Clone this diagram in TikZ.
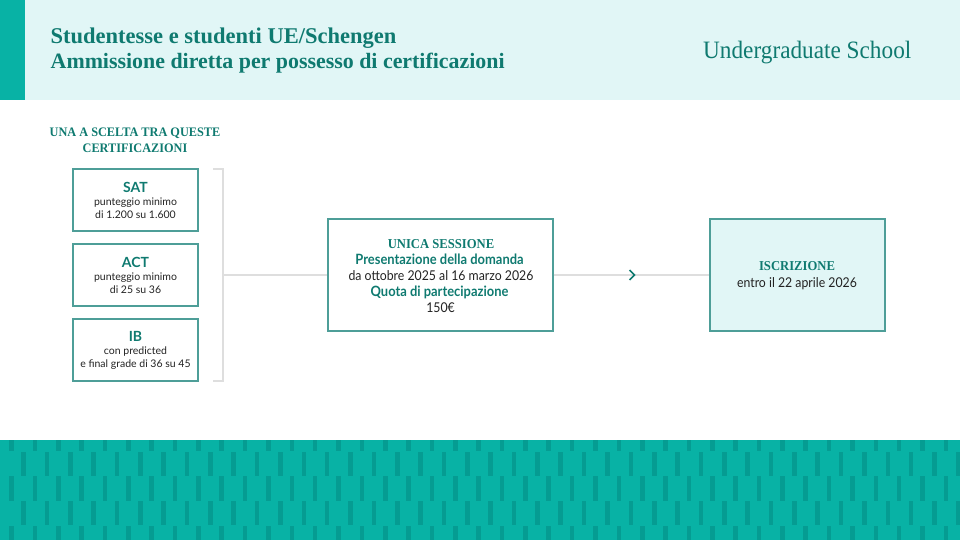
\documentclass[tikz,border=0pt]{standalone}
\usepackage{fontspec}
\setmainfont{Lato}
\newfontfamily\nar[FakeStretch=.91]{Lato}
\newfontfamily\disp{Liberation Serif}
\newfontfamily\dispn[FakeStretch=.93]{Liberation Serif}
\newfontfamily\dispu[FakeStretch=.93]{Liberation Serif}
\newfontfamily\disph[FakeStretch=.945]{Liberation Serif}
\definecolor{teal1}{HTML}{0F7A70}
\definecolor{edge}{HTML}{4E9E98}
\definecolor{pale}{HTML}{E1F6F6}
\definecolor{bar}{HTML}{08B2A5}
\definecolor{stripe}{HTML}{059C92}
\definecolor{greyl}{HTML}{DEDEDE}
\definecolor{ink}{HTML}{222222}
\tikzset{
 x=1pt,y=-1pt,
 boxs/.style={draw=edge,line width=1.1pt,inner sep=0pt,minimum width=125pt,minimum height=62pt},
 boxb/.style={draw=edge,line width=1.1pt,inner sep=0pt,minimum height=112pt},
 lbl/.style={anchor=base,inner sep=0pt,align=center},
 wire/.style={draw=greyl,line width=1.3pt},
 st/.style={fill=stripe,draw=none},
 small/.style={lbl,text=ink,font=\fontsize{10.5}{10.5}\selectfont},
 smallh/.style={lbl,text=teal1,font=\bfseries\fontsize{14}{14}\selectfont},
 serifh/.style={lbl,text=teal1,font=\dispn\bfseries\fontsize{13.6}{14}\selectfont},
 bodyk/.style={lbl,text=ink,font=\nar\fontsize{13.5}{14}\selectfont},
 bodyt/.style={lbl,text=teal1,font=\nar\bfseries\fontsize{14.2}{14}\selectfont}
}
\begin{document}
\begin{tikzpicture}
\useasboundingbox (0,0) rectangle (960,540);
\fill[pale] (0,0) rectangle (960,100);
\fill[bar] (0,0) rectangle (25,100);
\node[anchor=base west,inner sep=0pt,text=teal1,font=\disp\bfseries\fontsize{22.5}{22}\selectfont] (t1) at (50.5,44) {Studentesse e studenti UE/Schengen};
\node[anchor=base west,inner sep=0pt,text=teal1,font=\disp\bfseries\fontsize{21.9}{22}\selectfont] (t2) at (50.5,69) {Ammissione diretta per possesso di certificazioni};
\node[anchor=base west,inner sep=0pt,text=teal1,font=\dispu\fontsize{25}{25}\selectfont] (us) at (703,59) {Undergraduate School};
\node[lbl,text=teal1,font=\disph\bfseries\fontsize{13}{13}\selectfont] (h1) at (135,137) {UNA A SCELTA TRA QUESTE};
\node[lbl,text=teal1,font=\disph\bfseries\fontsize{13}{13}\selectfont] (h2) at (135,153) {CERTIFICAZIONI};
\node[boxs] (sat) at (135.5,200) {};
\node[boxs] (act) at (135.5,275) {};
\node[boxs] (ib) at (135.5,350) {};
\node[smallh] (sat1) at (135.5,192) {SAT};
\node[small] (sat2) at (135.5,205) {punteggio minimo};
\node[small] (sat3) at (135.5,218) {di 1.200 su 1.600};
\node[smallh] (act1) at (135.5,267) {ACT};
\node[small] (act2) at (135.5,280) {punteggio minimo};
\node[small] (act3) at (135.5,293) {di 25 su 36};
\node[smallh] (ib1) at (135.5,341) {IB};
\node[small] (ib2) at (135.5,354) {con predicted};
\node[small] (ib3) at (135.5,367) {e final grade di 36 su 45};
\coordinate (bt) at (213,169);
\coordinate (bb) at (213,381);
\coordinate (bm) at (223,275);
\draw[wire] (bt) -| (bm) |- (bb);
\node[boxb,minimum width=225pt] (uni) at (440.5,275) {};
\node[boxb,minimum width=175pt,fill=pale] (isc) at (797.5,275) {};
\draw[wire] (bm) -- (uni.west);
\draw[wire] (uni.east) -- (isc.west);
\coordinate (chev) at (632,275);
\draw[teal1,line width=1.6pt] ([shift={(-2.5,-5)}]chev) -- ([shift={(2.5,0)}]chev) -- ([shift={(-2.5,5)}]chev);
\node[serifh] (u1) at (441,248) {UNICA SESSIONE};
\node[bodyt] (u2) at (439.5,264) {Presentazione della domanda};
\node[bodyk] (u3) at (441,280) {da ottobre 2025 al 16 marzo 2026};
\node[bodyt] (u4) at (439.5,296) {Quota di partecipazione};
\node[bodyk] (u5) at (440.5,312) {150€};
\node[serifh] (i1) at (797,270) {ISCRIZIONE};
\node[bodyk] (i2) at (797,287) {entro il 22 aprile 2026};
\fill[bar] (0,440) rectangle (960,540);
\foreach \k in {0,...,41}{
  \pgfmathsetmacro{\xa}{11.5+23.36*\k}
  \pgfmathsetmacro{\xb}{23.5+23.36*\k}
  \fill[st] (\xa-2.3,440) rectangle (\xa+2.3,451);
  \fill[st] (\xb-2.3,451.5) rectangle (\xb+2.3,476);
  \fill[st] (\xa-2.3,476.3) rectangle (\xa+2.3,500.5);
  \fill[st] (\xb-2.3,500.8) rectangle (\xb+2.3,525);
  \fill[st] (\xa-2.3,525.5) rectangle (\xa+2.3,540);
}
\end{tikzpicture}
\end{document}
